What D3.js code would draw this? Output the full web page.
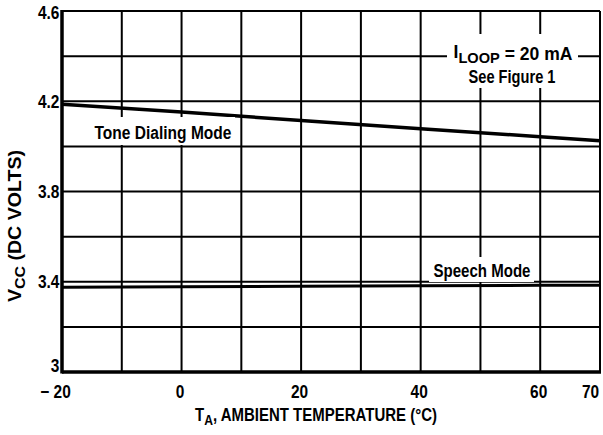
<!DOCTYPE html>
<html><head><meta charset="utf-8">
<script src="https://cdn.jsdelivr.net/npm/d3@7"></script>
<style>
body{margin:0;background:#fff;}
svg{display:block;}
text{font-family:"Liberation Sans",Arial,Helvetica,sans-serif;fill:#000;font-weight:bold;}
</style></head><body>
<svg id="c" width="603" height="435"></svg>
<script>
// Data
const xTicks = [-20, 0, 20, 40, 60, 70];
const yTicks = [3, 3.4, 3.8, 4.2, 4.6];
const xGrid = [-20, -10, 0, 10, 20, 30, 40, 50, 60, 70];
const yGrid = [3.0, 3.2, 3.4, 3.6, 3.8, 4.0, 4.2, 4.4, 4.6];
const temps = [-20, 0, 20, 40, 60, 70];
const toneDialing = [4.187, 4.152, 4.115, 4.078, 4.043, 4.025];
const speech = [3.376, 3.378, 3.380, 3.382, 3.384, 3.385];

const svg = d3.select("#c");
const x = d3.scaleLinear().domain([-20, 70]).range([62, 600]);
const y = d3.scaleLinear().domain([3, 4.6]).range([372, 11]);

// grid
const g = svg.append("g");
g.selectAll(".vg").data(xGrid).join("line")
  .attr("x1", d => x(d)).attr("x2", d => x(d)).attr("y1", y(4.6)).attr("y2", y(3))
  .attr("stroke", "#000").attr("stroke-width", 2);
g.selectAll(".hg").data(yGrid).join("line")
  .attr("x1", x(-20)).attr("x2", x(70)).attr("y1", d => y(d)).attr("y2", d => y(d))
  .attr("stroke", "#000").attr("stroke-width", 2);
svg.append("line").attr("x1", x(-20)).attr("x2", x(-20)).attr("y1", y(4.6) - 1).attr("y2", y(3) + 1.5)
  .attr("stroke", "#000").attr("stroke-width", 3.5);
svg.append("line").attr("x1", x(-20)).attr("x2", x(70) + 1).attr("y1", y(3)).attr("y2", y(3))
  .attr("stroke", "#000").attr("stroke-width", 3.5);

// curves
const line = d3.line().x((d, i) => x(temps[i])).y(d => y(d));
svg.append("path").attr("d", line(toneDialing)).attr("fill", "none")
  .attr("stroke", "#000").attr("stroke-width", 3.5);
svg.append("path").attr("d", line(speech)).attr("fill", "none")
  .attr("stroke", "#000").attr("stroke-width", 3);

// condensed text helper: centered at (cx, baseline) with target width
function ctext(parent, cx, by, width, size, build, rotate) {
  const gg = parent.append("g");
  const t = gg.append("text").attr("text-anchor", "middle").attr("font-size", size);
  build(t);
  const w = t.node().getBBox().width;
  const s = width / w;
  gg.attr("transform", `translate(${cx},${by})` + (rotate ? ` rotate(${rotate})` : "") + ` scale(${s},1)`);
  return gg;
}

// label boxes
svg.append("rect").attr("x", 92).attr("y", 117).attr("width", 143).attr("height", 28).attr("fill", "#fff");
ctext(svg, 163, 139, 137, 18.5, t => t.text("Tone Dialing Mode"));
svg.append("rect").attr("x", 429).attr("y", 257).attr("width", 105).attr("height", 25).attr("fill", "#fff");
ctext(svg, 482, 277, 97, 18.5, t => t.text("Speech Mode"));

svg.append("rect").attr("x", 447).attr("y", 34).attr("width", 131).attr("height", 54).attr("fill", "#fff");
ctext(svg, 513, 60, 119, 18, t => {
  t.append("tspan").attr("dy", -2).text("I");
  t.append("tspan").attr("font-size", 15).attr("dy", 5).text("LOOP");
  t.append("tspan").attr("dy", -3).text(" = 20 mA");
});
ctext(svg, 512, 83, 87, 18, t => t.text("See Figure 1"));

// axes
const xAxis = d3.axisBottom(x).tickValues(xTicks).tickSize(0).tickPadding(0)
  .tickFormat(d => d < 0 ? "\u2212 " + Math.abs(d) : d);
const xa = svg.append("g").attr("transform", `translate(0,${y(3) + 13})`).call(xAxis);
xa.select(".domain").remove();
xa.selectAll("text").attr("font-size", 18).attr("font-weight", "bold")
  .attr("font-family", '"Liberation Sans",Arial,sans-serif')
  .attr("transform", d => `translate(${d === -20 ? -7 : (d === 70 ? -10 : -2)},0) scale(0.86,1)`);

const yAxis = d3.axisLeft(y).tickValues(yTicks).tickSize(0).tickPadding(3)
  .tickFormat(d => d === 3 ? "3" : d3.format(".1f")(d));
const ya = svg.append("g").attr("transform", `translate(${x(-20)},0)`).call(yAxis);
ya.select(".domain").remove();
ya.selectAll("text").attr("font-size", 18).attr("font-weight", "bold")
  .attr("font-family", '"Liberation Sans",Arial,sans-serif')
  .attr("transform", "scale(0.86,1)")
  .attr("dy", d => d === 3 ? "-0.05em" : (d === 4.6 ? "0.4em" : "0.32em"));

// axis titles
ctext(svg, 316, 421, 242, 18.5, t => {
  t.append("tspan").text("T");
  t.append("tspan").attr("font-size", 15).attr("dy", 4).text("A");
  t.append("tspan").attr("dy", -4).text(", AMBIENT TEMPERATURE (°C)");
});
ctext(svg, 21, 226, 152, 18.5, t => {
  t.append("tspan").text("V");
  t.append("tspan").attr("font-size", 15).attr("dy", 4).text("CC");
  t.append("tspan").attr("dy", -4).text(" (DC VOLTS)");
}, -90);
</script>
</body></html>
